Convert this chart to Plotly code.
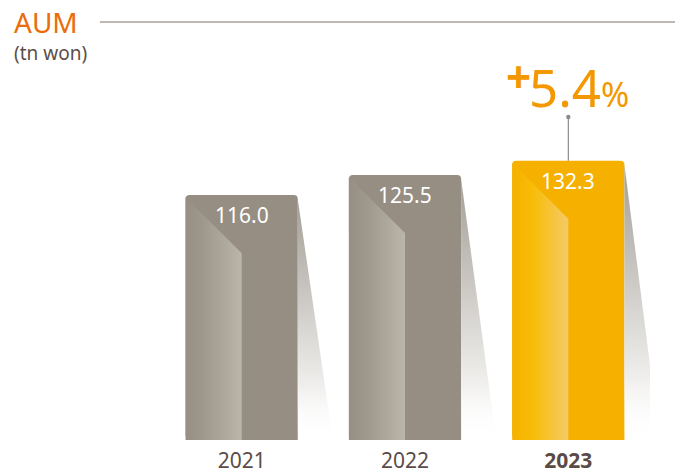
import plotly.graph_objects as go

# ---- data ----
years = ["2021", "2022", "2023"]
aum = [116.0, 125.5, 132.3]
growth_label = "5.4"
title_text = "AUM"
unit_text = "(tn won)"

FONT = "Noto Sans"
gray_bar = "#968e83"
yellow_bar = "#f6b000"
bar_colors = [gray_bar, gray_bar, yellow_bar]
strip_scales = [
    [[0, "#978f85"], [0.3, "#9e978c"], [1, "#bab6a9"]],
    [[0, "#978f85"], [0.3, "#9e978c"], [1, "#bab6a9"]],
    [[0, "#f5b100"], [0.35, "#f8bc05"], [1, "#f4ca66"]],
]

xs = list(range(len(years)))
W = 0.687
half = W / 2
fold = 27.5      # depth of the folded corner (data units)
ry, rx = 1.8, 0.025
shadow_w = 0.215

fig = go.Figure()

# shadows
for i, v in zip(xs, aum):
    x1 = i + half
    fig.add_trace(go.Scatter(
        x=[x1, x1 + shadow_w, x1, x1], y=[v - 2, 0, 0, v - 2],
        mode="lines", line=dict(width=0), fill="toself",
        fillgradient=dict(type="vertical",
                          colorscale=[[0, "rgba(255,255,255,0)"], [0.22, "rgba(240,239,237,1)"], [1, "#a39e97"]]),
        hoverinfo="skip", showlegend=False))

# bars
fig.add_trace(go.Bar(
    x=xs, y=aum, width=W,
    marker=dict(color=bar_colors, cornerradius=4, line=dict(width=0)),
    hoverinfo="skip", showlegend=False))

# folded gradient strips
for i, v, cs in zip(xs, aum, strip_scales):
    x0 = i - half
    xm = i
    fig.add_trace(go.Scatter(
        x=[x0, xm, xm, x0 + rx, x0, x0],
        y=[v - 1.0, v - fold, 0, 0, ry, v - 1.0],
        mode="lines", line=dict(width=0), fill="toself",
        fillgradient=dict(type="horizontal", colorscale=cs),
        hoverinfo="skip", showlegend=False))

annotations = []
for i, v in zip(xs, aum):
    annotations.append(dict(
        x=i, y=v, xref="x", yref="y", text=f"{v:.1f}", showarrow=False,
        yanchor="middle", yshift=-20,
        font=dict(family=FONT, size=21, color="white")))

# growth label above last bar
last = xs[-1]
annotations.append(dict(
    x=last, y=aum[-1], xref="x", yref="y",
    text=f"{growth_label}<span style='font-size:34px'>%</span>",
    showarrow=False, yanchor="middle", yshift=74, xshift=11,
    font=dict(family=FONT, size=51, color="#f39800")))
annotations.append(dict(
    x=last, y=aum[-1], xref="x", yref="y",
    text="<b>+</b>", showarrow=False, yanchor="middle", yshift=85, xshift=-50,
    font=dict(family=FONT, size=44, color="#f39800")))

# title and unit
annotations.append(dict(
    x=-148 / 490, y=(440 - 22) / 380, xref="paper", yref="paper",
    text=title_text, showarrow=False, xanchor="left", yanchor="middle",
    font=dict(family=FONT, size=28, color="#ea6d0a")))
annotations.append(dict(
    x=-148 / 490, y=(440 - 53) / 380, xref="paper", yref="paper",
    text=unit_text, showarrow=False, xanchor="left", yanchor="middle",
    font=dict(family=FONT, size=19, color="#5b4e4a")))

shapes = [
    dict(type="line", xref="paper", yref="paper",
         x0=-60 / 490, x1=525 / 490, y0=(440 - 22) / 380, y1=(440 - 22) / 380,
         line=dict(color="#7d7566", width=1)),
    dict(type="line", xref="x", yref="y", x0=last, x1=last,
         ysizemode="pixel", yanchor=aum[-1], y0=0, y1=44,
         line=dict(color="#8f8a85", width=1.2), layer="above"),
    dict(type="circle", xref="x", yref="y",
         xsizemode="pixel", xanchor=last, x0=-2.2, x1=2.2,
         ysizemode="pixel", yanchor=aum[-1], y0=41.5, y1=46,
         fillcolor="#8f8a85", line=dict(width=0), layer="above"),
]

ticktext = [y if k < len(years) - 1 else f"<b>{y}</b>" for k, y in enumerate(years)]

fig.update_layout(
    width=675, height=473,
    margin=dict(l=160, r=25, t=60, b=33, autoexpand=False),
    paper_bgcolor="white", plot_bgcolor="white",
    showlegend=False,
    xaxis=dict(range=[-0.5, 2.5], tickvals=xs, ticktext=ticktext,
               showgrid=False, zeroline=False, showline=False, ticks="",
               ticklabelstandoff=6, automargin=False,
               tickfont=dict(family=FONT, size=21, color="#5b4b47"),
               fixedrange=True),
    yaxis=dict(range=[0, 180], visible=False, showgrid=False, zeroline=False,
               automargin=False, fixedrange=True),
    annotations=annotations,
    shapes=shapes,
)

fig.write_html("out.html", config={"displayModeBar": False},
               post_script="document.body.style.margin='0';document.body.style.overflow='hidden';")
